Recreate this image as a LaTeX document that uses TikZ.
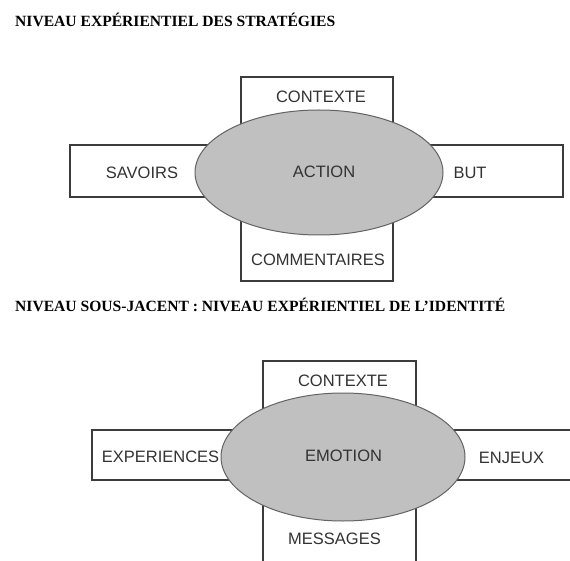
\documentclass[tikz,border=0pt]{standalone}
\usepackage{fontspec}
\setsansfont{Liberation Sans}
\newfontfamily\titlefont{Liberation Serif}
\usepackage{tikz}
\usetikzlibrary{positioning}
\usetikzlibrary{shapes.geometric}

\definecolor{linegray}{HTML}{3C3C3C}
\definecolor{ellgray}{HTML}{C0C0C0}
\definecolor{txtgray}{HTML}{333333}

\begin{document}
\begin{tikzpicture}[x=1pt,y=-1pt,font=\sffamily\fontsize{16.5}{18}\selectfont,text=txtgray]
	\clip (0,0) rectangle (570,561);

	\node [anchor=base west,inner sep=0pt,text=black,font=\titlefont\bfseries\fontsize{15.6}{17}\selectfont] at (15,27) (strat_title) {NIVEAU EXPÉRIENTIEL DES STRATÉGIES};

	\node [minimum width=152pt,minimum height=204pt,outer sep=0pt,draw=linegray,line width=1.4pt,fill=white] at (317,179) (strat_vbox) {};
	\node [minimum width=493pt,minimum height=52pt,outer sep=0pt,draw=linegray,line width=1.4pt,fill=white] at (316.5,171) (strat_hbox) {};
	\node [ellipse,minimum width=248pt,minimum height=125pt,inner sep=0pt,draw=linegray!80,line width=1pt,fill=ellgray] at (319,172.5) (action) {};

	\node at (321,97) (ctx_txt) {CONTEXTE};
	\node at (142,173) (sav_txt) {SAVOIRS};
	\node at (324,172) (action_txt) {ACTION};
	\node at (470,173) (but_txt) {BUT};
	\node at (318,260) (comm_txt) {COMMENTAIRES};

	\node [anchor=base west,inner sep=0pt,text=black,font=\titlefont\bfseries\fontsize{15.6}{17}\selectfont] at (15,311) (ident_title) {NIVEAU SOUS-JACENT : NIVEAU EXPÉRIENTIEL DE L’IDENTITÉ};

	\node [minimum width=153pt,minimum height=204pt,outer sep=0pt,draw=linegray,line width=1.4pt,fill=white] at (339.5,463) (ident_vbox) {};
	\node [minimum width=493pt,minimum height=50pt,outer sep=0pt,draw=linegray,line width=1.4pt,fill=white] at (338.5,455) (ident_hbox) {};
	\node [ellipse,minimum width=244pt,minimum height=128pt,inner sep=0pt,draw=linegray!80,line width=1pt,fill=ellgray] at (343,457) (emotion) {};

	\node at (343,381) (ctx2_txt) {CONTEXTE};
	\node at (160.5,457) (exp_txt) {EXPERIENCES};
	\node at (343.5,456) (emotion_txt) {EMOTION};
	\node at (511.5,458) (enj_txt) {ENJEUX};
	\node at (334.5,539) (msg_txt) {MESSAGES};
\end{tikzpicture}
\end{document}
